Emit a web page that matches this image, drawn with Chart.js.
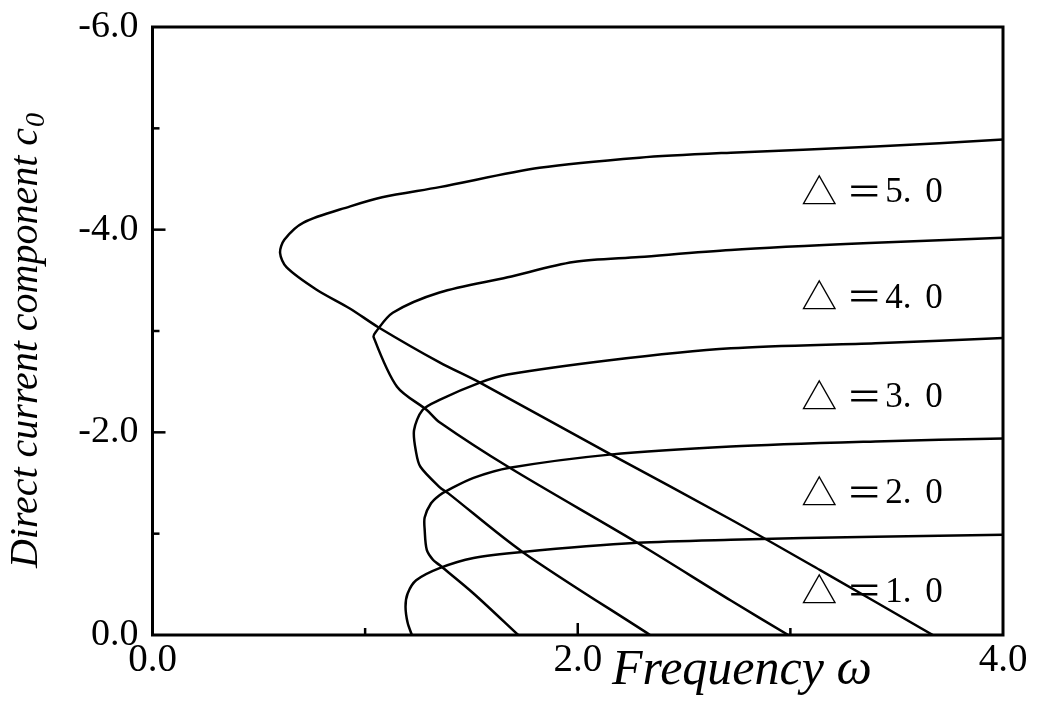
<!DOCTYPE html>
<html>
<head>
<meta charset="utf-8">
<script src="https://cdn.jsdelivr.net/npm/chart.js@4.4.1/dist/chart.umd.min.js"></script>
<style>
  html, body { margin: 0; padding: 0; background: #fff; }
  canvas { display: block; }
</style>
</head>
<body>
<canvas id="dcChart" width="1038" height="702"></canvas>
<script>
// Direct current component c0 vs. frequency omega, one curve per detuning value
const deltas = [1.0, 2.0, 3.0, 4.0, 5.0];

// each curve: upper branch from omega = 4 back to the turning point, then the lower branch down to c0 = 0
const w1 = [4.00, 3.40, 2.72, 2.28, 1.74, 1.51, 1.35, 1.24, 1.20, 1.19, 1.20, 1.22];
const c1 = [-0.99, -0.97, -0.94, -0.91, -0.82, -0.76, -0.66, -0.54, -0.41, -0.28, -0.12, 0];

const w2 = [4.00, 3.40, 2.72, 2.15, 1.68, 1.51, 1.39, 1.35, 1.31, 1.28, 1.28, 1.29, 1.32, 1.35, 1.51, 1.72];
const c2 = [-1.94, -1.91, -1.86, -1.78, -1.65, -1.55, -1.43, -1.38, -1.30, -1.16, -1.04, -0.84, -0.74, -0.69, -0.41, 0];

const w3 = [4.00, 3.40, 2.72, 2.14, 1.67, 1.54, 1.35, 1.27, 1.23, 1.24, 1.26, 1.35, 1.39, 1.74, 2.34];
const c3 = [-2.93, -2.88, -2.83, -2.71, -2.57, -2.49, -2.32, -2.22, -2.02, -1.80, -1.66, -1.46, -1.40, -0.82, 0];

const w4 = [4.00, 3.40, 2.72, 2.29, 1.98, 1.67, 1.35, 1.13, 1.05, 1.04, 1.15, 1.29, 1.35, 1.68, 2.28, 2.72, 2.99];
const c4 = [-3.92, -3.87, -3.80, -3.73, -3.68, -3.53, -3.38, -3.18, -2.99, -2.94, -2.45, -2.22, -2.10, -1.65, -0.91, -0.34, 0];

const w5 = [4.00, 3.40, 2.72, 2.29, 1.82, 1.35, 1.08, 0.93, 0.71, 0.62, 0.60, 0.63, 0.77, 0.93, 1.06, 1.35, 1.54, 2.14, 2.72, 3.14, 3.67];
const c5 = [-4.89, -4.82, -4.76, -4.71, -4.61, -4.42, -4.32, -4.23, -4.07, -3.90, -3.77, -3.63, -3.41, -3.22, -3.04, -2.69, -2.49, -1.80, -1.14, -0.64, 0];

// axis tick values that carry a label
const xLabelled = [0, 2, 4];
const yLabelled = [-6, -4, -2, 0];

const curves = [[w1, c1], [w2, c2], [w3, c3], [w4, c4], [w5, c5]];

const datasets = curves.map(([w, c], i) => ({
  label: 'Δ=' + deltas[i].toFixed(1),
  data: w.map((x, k) => ({ x: x, y: c[k] })),
  showLine: true,
  borderColor: '#000',
  borderWidth: 2.5,
  pointRadius: 0,
  tension: 0.3,
  fill: false
}));

// label anchor (left edge, vertical centre) for each curve, in data units
const labelLeft = 3.06;
const labelMid = [-0.44, -1.41, -2.36, -3.34, -4.38];

const serif = "'Liberation Serif', 'Times New Roman', serif";

const framePlugin = {
  id: 'frame',
  afterDraw(chart) {
    const { ctx, chartArea: a, scales } = chart;
    ctx.save();
    ctx.strokeStyle = '#000';
    ctx.lineWidth = 3;
    ctx.strokeRect(a.left, a.top, a.right - a.left, a.bottom - a.top);

    // inward tick marks
    ctx.lineWidth = 2.5;
    for (let v = 1; v <= 3; v++) {
      const px = scales.x.getPixelForValue(v);
      const len = xLabelled.includes(v) ? 12 : 7;
      ctx.beginPath();
      ctx.moveTo(px, a.bottom);
      ctx.lineTo(px, a.bottom - len);
      ctx.stroke();
    }
    for (let v = -5; v <= -1; v++) {
      const py = scales.y.getPixelForValue(v);
      const len = yLabelled.includes(v) ? 13 : 7;
      ctx.beginPath();
      ctx.moveTo(a.left, py);
      ctx.lineTo(a.left + len, py);
      ctx.stroke();
    }

    // curve labels
    ctx.fillStyle = '#000';
    ctx.textBaseline = 'middle';
    ctx.textAlign = 'left';
    deltas.forEach((d, i) => {
      const x0 = scales.x.getPixelForValue(labelLeft);
      const y0 = scales.y.getPixelForValue(labelMid[i]);
      ctx.font = "36px 'Noto Sans CJK JP'";
      ctx.fillText('△', x0 - 2, y0);
      ctx.fillText('＝', x0 + 43, y0);
      const parts = d.toFixed(1).split('.');
      ctx.font = '35px ' + serif;
      ctx.fillText(parts[0] + '.', x0 + 82, y0 + 2);
      ctx.fillText(parts[1], x0 + 122, y0 + 2);
    });

    // axis titles
    ctx.textBaseline = 'alphabetic';
    ctx.font = 'italic 50px ' + serif;
    ctx.fillText('Frequency ω', 612, 684);

    ctx.save();
    ctx.translate(37, 341);
    ctx.rotate(-Math.PI / 2);
    const main = 'Direct current component c';
    ctx.font = 'italic 40px ' + serif;
    const wMain = ctx.measureText(main).width;
    ctx.font = 'italic 28px ' + serif;
    const wSub = ctx.measureText('0').width;
    const start = -(wMain + wSub) / 2;
    ctx.font = 'italic 40px ' + serif;
    ctx.fillText(main, start, 0);
    ctx.font = 'italic 28px ' + serif;
    ctx.fillText('0', start + wMain + 1, 7);
    ctx.restore();

    ctx.restore();
  }
};

function fixedPadding(scale) {
  scale.paddingTop = 0;
  scale.paddingBottom = 0;
  scale.paddingLeft = 0;
  scale.paddingRight = 0;
}

const chart = new Chart(document.getElementById('dcChart').getContext('2d'), {
  type: 'scatter',
  data: { datasets: datasets },
  options: {
    responsive: false,
    animation: false,
    layout: { padding: { left: 0, right: 35, top: 27, bottom: 0 } },
    plugins: {
      legend: { display: false },
      tooltip: { enabled: false }
    },
    scales: {
      x: {
        type: 'linear',
        min: 0,
        max: 4,
        border: { display: false },
        grid: { display: false, drawTicks: false },
        ticks: {
          stepSize: 1,
          padding: 2,
          color: '#000',
          font: { family: serif, size: 39 },
          callback: v => xLabelled.includes(v) ? v.toFixed(1) : ''
        },
        afterFit(scale) { scale.height = 67; fixedPadding(scale); }
      },
      y: {
        type: 'linear',
        min: -6,
        max: 0,
        reverse: true,
        border: { display: false },
        grid: { display: false, drawTicks: false },
        ticks: {
          stepSize: 1,
          padding: 14,
          color: '#000',
          font: { family: serif, size: 38 },
          callback: v => yLabelled.includes(v) ? (v === 0 ? '0.0' : v.toFixed(1)) : ''
        },
        afterFit(scale) { scale.width = 152.5; fixedPadding(scale); }
      }
    }
  },
  plugins: [framePlugin]
});
</script>
</body>
</html>
